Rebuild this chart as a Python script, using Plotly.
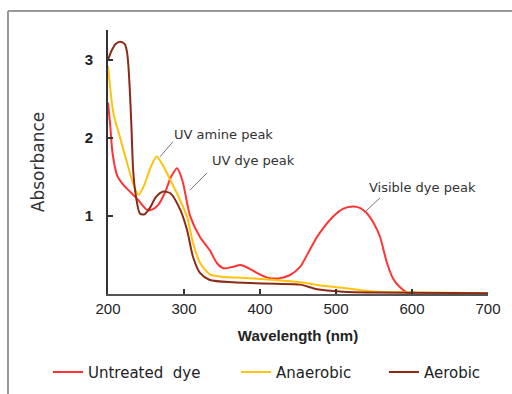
import plotly.graph_objects as go

# ---- data ----
untreated_nm = [200, 203, 206, 212, 220, 230, 240, 251, 258, 266, 275, 283, 291, 298, 308, 321,
                334, 343, 352, 365, 374, 385, 396, 410, 424, 439, 453, 463, 475, 486, 496, 509,
                522, 532, 540, 550, 558, 567, 575, 585, 597, 620, 700]
untreated_abs = [2.45, 2.15, 1.8, 1.52, 1.4, 1.3, 1.2, 1.08, 1.08, 1.14, 1.3, 1.5, 1.61, 1.45, 1.0, 0.73,
                 0.56, 0.4, 0.33, 0.35, 0.37, 0.33, 0.27, 0.21, 0.2, 0.24, 0.35, 0.52, 0.73, 0.88, 0.99, 1.09,
                 1.12, 1.1, 1.04, 0.9, 0.73, 0.4, 0.2, 0.08, 0.0, 0.0, 0.0]

anaerobic_nm = [200, 207, 216, 225, 233, 240, 248, 256, 264, 272, 282, 295, 304, 312, 321, 334,
                350, 370, 390, 420, 453, 480, 509, 530, 554, 600, 650, 700]
anaerobic_abs = [2.92, 2.32, 2.0, 1.68, 1.42, 1.27, 1.4, 1.62, 1.76, 1.65, 1.46, 1.2, 0.99, 0.65, 0.4, 0.25,
                 0.22, 0.21, 0.2, 0.18, 0.15, 0.11, 0.08, 0.05, 0.03, 0.02, 0.015, 0.01]

aerobic_nm = [200, 205, 210, 216, 222, 225, 227, 229, 231, 233, 236, 242, 248, 255, 263, 272, 282,
              295, 304, 312, 321, 334, 365, 387, 420, 453, 475, 509, 550, 700]
aerobic_abs = [3.0, 3.12, 3.2, 3.23, 3.2, 3.1, 2.9, 2.55, 2.1, 1.6, 1.3, 1.03, 1.02, 1.1, 1.24, 1.31, 1.29,
               1.08, 0.82, 0.47, 0.27, 0.18, 0.15, 0.14, 0.13, 0.12, 0.06, 0.03, 0.02, 0.01]

series_names = ["Untreated  dye", "Anaerobic", "Aerobic"]
x_ticks = [200, 300, 400, 500, 600, 700]
y_ticks = [1, 2, 3]

annot_texts = ["UV amine peak", "UV dye peak", "Visible dye peak"]

colors = ["#ff3333", "#ffc20e", "#8b2a17"]

fig = go.Figure()
all_series = [(untreated_nm, untreated_abs), (anaerobic_nm, anaerobic_abs), (aerobic_nm, aerobic_abs)]
legend_ids = ["legend", "legend2", "legend3"]
for i, (xs, ys) in enumerate(all_series):
    fig.add_trace(go.Scatter(
        x=xs, y=ys, mode="lines", name=series_names[i],
        line=dict(color=colors[i], width=2, shape="spline", smoothing=0.7),
        legend=legend_ids[i], showlegend=True,
    ))

axis_font_x = dict(family="Liberation Sans Narrow, Liberation Sans, Arial", size=15, color="#222")
axis_font_y = dict(family="Liberation Sans, Arial", size=15, color="#222", weight="bold")

fig.update_xaxes(
    range=[200, 700], tickvals=x_ticks, ticktext=[str(v) for v in x_ticks], automargin=False,
    showline=True, linecolor="#555", linewidth=2, ticks="inside", ticklen=5, tickwidth=2,
    tickcolor="#333", showgrid=False, zeroline=False, tickfont=axis_font_x, ticklabelstandoff=0,
    title=dict(text="Wavelength (nm)", font=dict(family="Liberation Sans, Arial", size=15,
                                                  color="#222", weight="bold"), standoff=14),
)
fig.update_yaxes(
    range=[0, 3.38], tickvals=y_ticks, ticktext=[str(v) for v in y_ticks], automargin=False,
    showline=True, linecolor="#333", linewidth=2, ticks="inside", ticklen=5, tickwidth=2,
    tickcolor="#333", showgrid=False, zeroline=False, tickfont=axis_font_y, ticklabelstandoff=10,
    title=dict(text="Absorbance", font=dict(family="DejaVu Sans", size=17, color="#333"), standoff=36),
)

# annotations: text labels + leader lines
text_pos = [(284.2, 2.04), (334.2, 1.705), (540.8, 1.36)]
leaders = [((268.4, 1.756), (285.5, 1.95)), ((307.9, 1.33), (330.3, 1.55)), ((538, 1.05), (558, 1.23))]
for t, (tx, ty), ((x0, y0), (x1, y1)) in zip(annot_texts, text_pos, leaders):
    fig.add_annotation(x=tx, y=ty, xref="x", yref="y", text=t, showarrow=False,
                       xanchor="left", yanchor="middle",
                       font=dict(family="DejaVu Sans", size=13, color="#333"))
    fig.add_shape(type="line", x0=x0, y0=y0, x1=x1, y1=y1, xref="x", yref="y",
                  line=dict(color="#777", width=1))

# outer frame (left and top edges)
fig.add_shape(type="line", xref="paper", yref="paper", x0=-0.2632, x1=-0.2632, y0=1.072, y1=-0.45,
              line=dict(color="#999", width=2))
fig.add_shape(type="line", xref="paper", yref="paper", x0=-0.2632, x1=1.1, y0=1.072, y1=1.072,
              line=dict(color="#999", width=2))

legend_font = dict(family="DejaVu Sans", size=15, color="#222")
leg_x = [-0.1579, 0.3289, 0.7211]
common = dict(orientation="h", yanchor="middle", y=-0.296, xanchor="left", font=legend_font,
              bgcolor="rgba(0,0,0,0)", borderwidth=0, itemwidth=30)
fig.update_layout(
    legend=dict(x=leg_x[0], **common),
    legend2=dict(x=leg_x[1] + 0.008, **common),
    legend3=dict(x=leg_x[2] + 0.005, **common),
)

fig.update_layout(
    width=512, height=394,
    margin=dict(l=108, r=24, t=30, b=100, autoexpand=False),
    paper_bgcolor="white", plot_bgcolor="white",
)

fig.write_html("out.html")
